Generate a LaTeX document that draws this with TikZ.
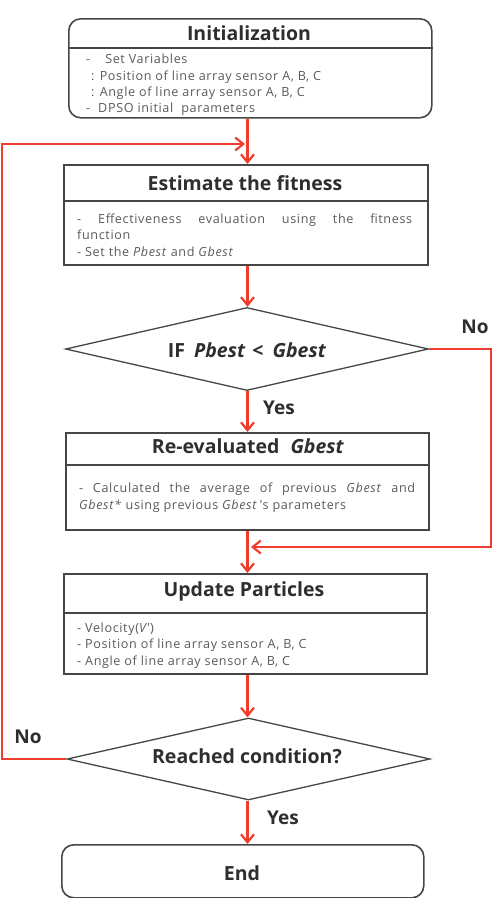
\documentclass[tikz,border=0pt]{standalone}
\usepackage{fontspec}
\setmainfont{Open Sans}
\newfontfamily\bodyfont[LetterSpace=5]{Open Sans}
\usetikzlibrary{arrows.meta,shapes.geometric}
\definecolor{lnred}{HTML}{F03C2C}
\definecolor{boxgray}{HTML}{464646}
\definecolor{txtgray}{HTML}{5A5A5A}
\definecolor{ttlgray}{HTML}{2E2E2E}
\tikzset{
  box/.style={draw=boxgray,line width=1.6pt,inner sep=0pt,anchor=north west},
  hdrline/.style={draw=boxgray,line width=1.4pt},
  dia/.style={diamond,draw=boxgray,line width=1.3pt,inner sep=0pt,aspect=4.4},
  ttl/.style={inner sep=0pt,font=\fontsize{19.5}{21}\selectfont\bfseries,text=ttlgray},
  body/.style={inner sep=0pt,anchor=base west,font=\bodyfont\fontsize{12.6}{14}\selectfont,text=txtgray},
  conn/.style={draw=lnred,line width=2.2pt,-{Straight Barb[length=8pt,width=13pt,line width=2.2pt]}},
  lbl/.style={inner sep=0pt,font=\fontsize{19}{21}\selectfont\bfseries,text=ttlgray}
}
\begin{document}
\begin{tikzpicture}[x=1pt,y=-1pt]
\useasboundingbox (0,0) rectangle (493,898);
% axis and loop coordinates
\coordinate (ax) at (247.5,0);
\coordinate (lx) at (2,0);
\coordinate (rx) at (491,0);
\coordinate (ly) at (0,144);
\coordinate (ry) at (0,547);
\coordinate (tipl) at (245,144);
\coordinate (tipr) at (251,547);

% Initialization
\node[box,rounded corners=12pt,minimum width=363pt,minimum height=99pt] (init) at (68,18) {};
\coordinate (h1) at (0,48);
\draw[hdrline] (init.west |- h1) -- (init.east |- h1);
\node[ttl] (t1) at (249,33) {Initialization};
\node[body] (b11) at (86,63) {-\hspace{15pt}Set Variables};
\node[body] (b12) at (91,80) {: Position of line array sensor A, B, C};
\node[body] (b13) at (91,96.5) {: Angle of line array sensor A, B, C};
\node[body] (b14) at (86,112.5) {-\hspace{8pt}DPSO initial\hspace{8pt}parameters};

% Estimate the fitness
\node[box,minimum width=364pt,minimum height=100pt] (est) at (63,164) {};
\coordinate (h2) at (0,201);
\draw[hdrline] (est.west |- h2) -- (est.east |- h2);
\node[ttl] (t2) at (245,183) {Estimate the fitness};
\node[body] (b21) at (77,223) {\hbox to 335pt{-\hfill Effectiveness\hfill evaluation\hfill using\hfill the\hfill fitness}};
\node[body] (b22) at (77,239.5) {function};
\node[body] (b23) at (77,256) {- Set the \textit{Pbest} and \textit{Gbest}};

% Decision 1
\node[dia,minimum width=363pt,minimum height=83pt] (d1) at (247,349) {};
\node[ttl] (t3) at (247,350) {IF\hspace{4pt} \textit{Pbest}\hspace{2pt} <\hspace{4pt} \textit{Gbest}};

% Re-evaluated Gbest
\node[box,minimum width=363pt,minimum height=97pt] (re) at (65,432) {};
\coordinate (h3) at (0,465);
\draw[hdrline] (re.west |- h3) -- (re.east |- h3);
\node[ttl] (t4) at (248,446) {Re-evaluated\hspace{6pt} \textit{Gbest}};
\node[body] (b41) at (79,492) {\hbox to 336pt{-\hfill Calculated\hfill the\hfill average\hfill of\hfill previous\hfill \textit{Gbest}\hfill and}};
\node[body] (b42) at (79,509) {\textit{Gbest*} using previous \textit{Gbest}\,'s parameters};

% Update Particles
\node[box,minimum width=363pt,minimum height=100pt] (up) at (63,573) {};
\coordinate (h4) at (0,613);
\draw[hdrline] (up.west |- h4) -- (up.east |- h4);
\node[ttl] (t5) at (244,591) {Update Particles};
\node[body] (b51) at (77,632) {- Velocity(\textit{V'})};
\node[body] (b52) at (77,648.5) {- Position of line array sensor A, B, C};
\node[body] (b53) at (77,665) {- Angle of line array sensor A, B, C};

% Decision 2
\node[dia,minimum width=363pt,minimum height=82pt] (d2) at (248.5,759) {};
\node[ttl] (t6) at (247,756) {Reached condition?};

% End
\node[box,rounded corners=12pt,minimum width=362pt,minimum height=53pt] (endn) at (61,844) {};
\node[ttl] (t7) at (242,873) {End};

% connectors
\draw[conn] (ax |- init.south) -- (ax |- est.north);
\draw[conn] (ax |- est.south) -- (ax |- d1.north);
\draw[conn] (ax |- d1.south) -- (ax |- re.north);
\draw[conn] (ax |- re.south) -- (ax |- up.north);
\draw[conn] (ax |- up.south) -- (ax |- d2.north);
\draw[conn] (ax |- d2.south) -- (ax |- endn.north);
\draw[conn] (d2.west) -- (lx |- d2.west) -- (lx |- ly) -- (tipl);
\draw[conn] (d1.east) -- (rx |- d1.east) -- (rx |- ry) -- (tipr);

% labels
\node[lbl] (no1) at (475,327) {No};
\node[lbl] (yes1) at (279,408) {Yes};
\node[lbl] (no2) at (28,737) {No};
\node[lbl] (yes2) at (283,818) {Yes};
\end{tikzpicture}
\end{document}
